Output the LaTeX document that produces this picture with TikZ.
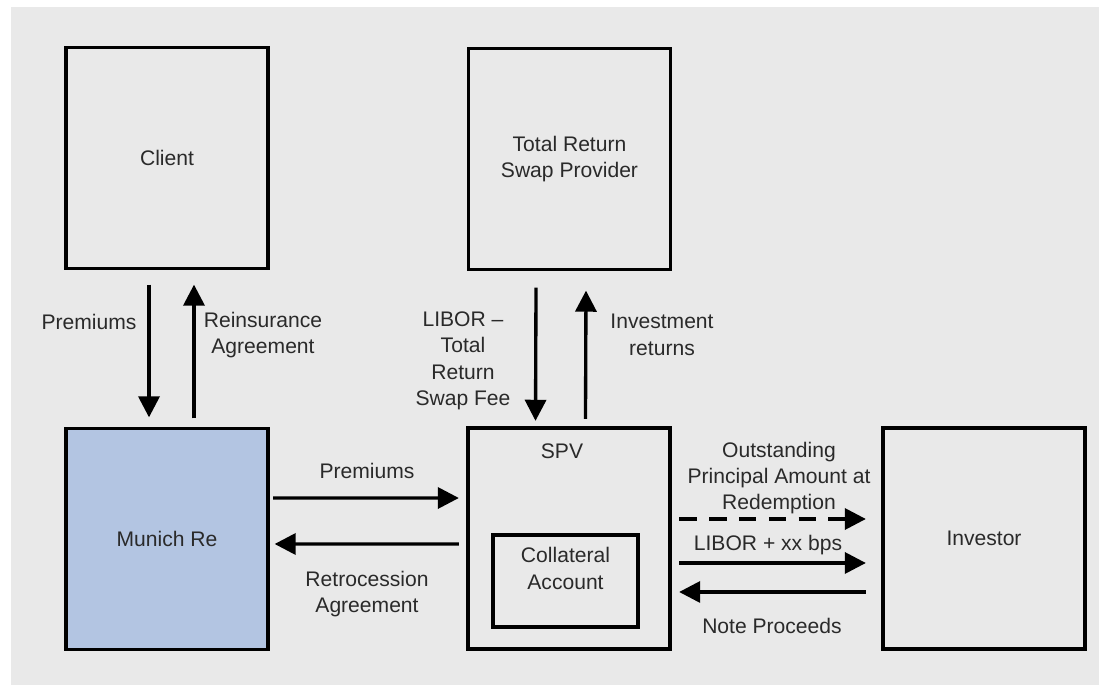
\documentclass[tikz,border=0pt]{standalone}
\usepackage{fontspec}
\setmainfont{Liberation Sans}
\usetikzlibrary{arrows.meta}
\definecolor{panelgray}{HTML}{E9E9E9}
\definecolor{munichblue}{HTML}{B3C5E2}
\definecolor{inkgray}{HTML}{2A2A2A}

\begin{document}
\begin{tikzpicture}[
        x=0.02cm, y=-0.02cm,
        every node/.style={font=\fontsize{12}{15}\selectfont, text=inkgray, align=center},
        box/.style={draw, line width=1.9pt, minimum width=4.04cm, minimum height=4.42cm},
        flow/.style={line width=1.9pt, -{Triangle[length=12pt,width=12pt]}}
    ]
        \useasboundingbox (0,0) rectangle (1099,685);
        \fill[panelgray] (11,7) rectangle (1099,685);

        \node (client) [box] at (167,158) {Client};
        \node (trs) [box] at (569.5,159) {Total Return\\Swap Provider};
        \node (munich) [box, fill=munichblue] at (167,539) {Munich Re};
        \node (spv) [box] at (569,538.5) {};
        \node (investor) [box] at (984,538.5) {Investor};
        \node (collat) [draw, line width=1.9pt, minimum width=2.9cm, minimum height=1.84cm] at (565.5,581) {};

        \node (spvtext) at (562,451) {SPV};
        \node (collattext) at ([yshift=0.25cm]collat) {Collateral\\Account};

        % client <-> munich re
        \draw[flow] ([xshift=-0.36cm,yshift=-0.29cm]client.south) -- ([xshift=-0.36cm,yshift=0.19cm]munich.north);
        \draw[flow] ([xshift=0.54cm,yshift=0.17cm]munich.north) -- ([xshift=0.54cm,yshift=-0.29cm]client.south);
        \node (premtext) at (89,322) {Premiums};
        \node (reinstext) at (263,335) {Reinsurance\\Agreement};

        % swap provider <-> spv
        \draw[flow] ([xshift=-0.67cm,yshift=-0.33cm]trs.south) -- ([xshift=-0.67cm,yshift=0.11cm]spv.north);
        \draw[flow] ([xshift=0.33cm,yshift=0.15cm]spv.north) -- ([xshift=0.33cm,yshift=-0.39cm]trs.south);
        \node (feetext) at (463,361) {LIBOR --\\Total\\Return\\Swap Fee};
        \node (investtext) at (662,335) {Investment\\returns};

        % munich re <-> spv
        \draw[flow] ([xshift=0.07cm,yshift=0.82cm]munich.east) -- ([xshift=-0.15cm,yshift=0.81cm]spv.west);
        \draw[flow] ([xshift=-0.15cm,yshift=-0.11cm]spv.west) -- ([xshift=0.1cm,yshift=-0.1cm]munich.east);
        \node (prem2text) at (367,471) {Premiums};
        \node (retrotext) at (367,594) {Retrocession\\Agreement};

        % spv <-> investor
        \draw[flow, dash pattern=on 10pt off 7pt] ([xshift=0.15cm,yshift=0.39cm]spv.east) -- ([xshift=-0.31cm,yshift=0.39cm]investor.west);
        \draw[flow] ([xshift=0.15cm,yshift=-0.49cm]spv.east) -- ([xshift=-0.31cm,yshift=-0.49cm]investor.west);
        \draw[flow] ([xshift=-0.31cm,yshift=-1.07cm]investor.west) -- ([xshift=0.15cm,yshift=-1.07cm]spv.east);
        \node (outtext) at (779,478) {Outstanding\\Principal Amount at\\Redemption};
        \node (libortext) at (768,545) {LIBOR + xx bps};
        \node (notetext) at (772,626) {Note Proceeds};
    \end{tikzpicture}
\end{document}
